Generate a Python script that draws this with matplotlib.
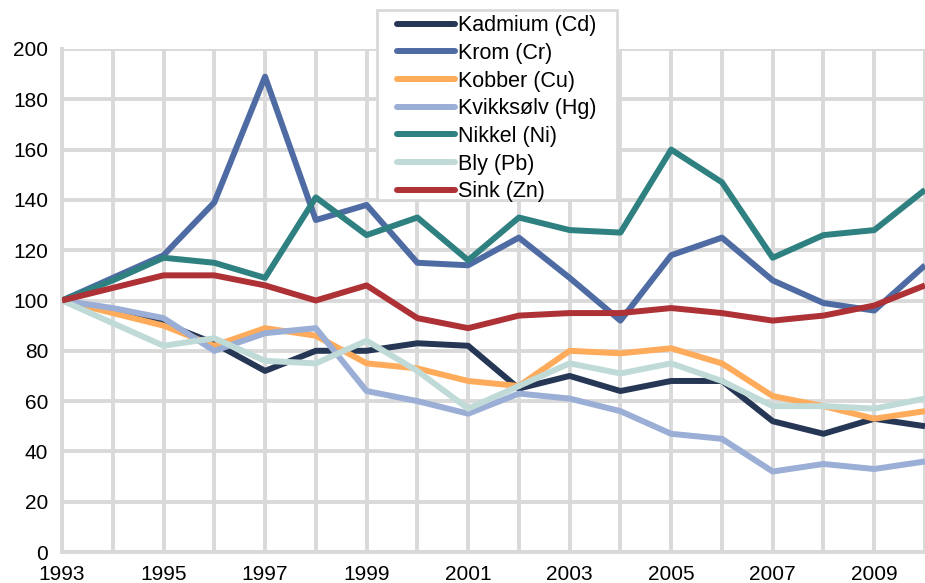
import numpy as np
import matplotlib.pyplot as plt
from matplotlib.patches import Rectangle

plt.rcParams['font.family'] = ['Liberation Sans', 'DejaVu Sans']

years = list(range(1993, 2011))

kadmium = [100, 96, 91, 83, 72, 80, 80, 83, 82, 65, 70, 64, 68, 68, 52, 47, 53, 50]
krom = [100, 109, 118, 139, 189, 132, 138, 115, 114, 125, 109, 92, 118, 125, 108, 99, 96, 114]
kobber = [100, 95, 90, 82, 89, 86, 75, 73, 68, 66, 80, 79, 81, 75, 62, 58, 53, 56]
kvikksolv = [100, 97, 93, 80, 87, 89, 64, 60, 55, 63, 61, 56, 47, 45, 32, 35, 33, 36]
nikkel = [100, 108, 117, 115, 109, 141, 126, 133, 116, 133, 128, 127, 160, 147, 117, 126, 128, 144]
bly = [100, 91, 82, 85, 76, 75, 84, 72, 57, 66, 75, 71, 75, 68, 58, 58, 57, 61]
sink = [100, 105, 110, 110, 106, 100, 106, 93, 89, 94, 95, 95, 97, 95, 92, 94, 98, 106]

labels = ['Kadmium (Cd)', 'Krom (Cr)', 'Kobber (Cu)', 'Kvikksølv (Hg)',
          'Nikkel (Ni)', 'Bly (Pb)', 'Sink (Zn)']
colors = ['#263655', '#4f6ba3', '#ffab5c', '#9aaed6', '#2f8080', '#c0dbd7', '#ae3135']
series = [kadmium, krom, kobber, kvikksolv, nikkel, bly, sink]

W, H = 925, 583
fig = plt.figure(figsize=(W / 100, H / 100), dpi=100)
ax = fig.add_axes([62 / W, 1 - 552 / H, 1 - 62 / W, 503 / H])

for vals, lab, col in zip(series, labels, colors):
    ax.plot(years, vals, color=col, lw=4.3, label=lab,
            solid_joinstyle='round', solid_capstyle='butt', zorder=3)

ax.set_xlim(1993, 1993 + 863 / 51.1)
ax.set_ylim(0, 200)
ax.set_yticks(range(0, 201, 20))
ax.set_xticks(years)
ax.set_xticklabels([str(y) if y % 2 == 1 else '' for y in years])
ax.tick_params(length=0, labelsize=15)
ax.tick_params(axis='x', pad=9)
ax.tick_params(axis='y', pad=10)
ax.grid(True, color='#d9d9d9', lw=2.8, zorder=1)
ax.set_axisbelow(True)
for s in ['top', 'right']:
    ax.spines[s].set_visible(False)
for s in ['left', 'bottom']:
    ax.spines[s].set_color('#d9d9d9')
    ax.spines[s].set_linewidth(2.8)

# legend box drawn separately (padding is uneven in the original)
box = Rectangle((377 / W, 1 - 200 / H), 240 / W, 190 / H, transform=fig.transFigure,
                facecolor='white', edgecolor='#d9d9d9', lw=2, zorder=1)
fig.patches.append(box)

leg = fig.legend(loc='upper left', bbox_to_anchor=(393 / W, 1 - 11 / H),
                 fontsize=15.5, frameon=False, handlelength=2.7, handletextpad=0.1,
                 labelspacing=0.31, borderpad=0.2, borderaxespad=0)
for line in leg.get_lines():
    line.set_solid_capstyle('round')

fig.savefig('out.png', dpi=100)
